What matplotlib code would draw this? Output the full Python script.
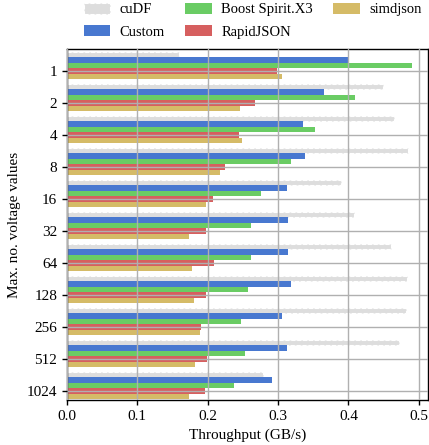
import matplotlib
matplotlib.use("Agg")
import matplotlib.pyplot as plt
import numpy as np

categories = ["1", "2", "4", "8", "16", "32", "64", "128", "256", "512", "1024"]
series_names = ["cuDF", "Custom", "Boost Spirit.X3", "RapidJSON", "simdjson"]
cudf = [0.159, 0.449, 0.465, 0.484, 0.390, 0.408, 0.461, 0.483, 0.482, 0.472, 0.279]
custom = [0.401, 0.365, 0.336, 0.338, 0.312, 0.314, 0.314, 0.318, 0.305, 0.312, 0.292]
boost = [0.490, 0.409, 0.352, 0.319, 0.275, 0.261, 0.261, 0.257, 0.247, 0.253, 0.238]
rapidjson = [0.298, 0.267, 0.244, 0.224, 0.207, 0.197, 0.209, 0.197, 0.191, 0.199, 0.196]
simdjson = [0.305, 0.2455, 0.248, 0.217, 0.197, 0.174, 0.177, 0.180, 0.189, 0.182, 0.174]

plt.rcParams['font.family'] = ['Liberation Serif', 'DejaVu Serif']
plt.rcParams['font.size'] = 11

fig = plt.figure(figsize=(4.29, 4.45), dpi=100)
ax = fig.add_axes([67/429, 1 - 400/445, (428-67)/429, (400-49)/445])

y = np.arange(len(categories))
h = 0.172
offsets = [-0.52, -0.35, -0.178, -0.006, 0.166]
colors = ["#dddddd", "#4878d0", "#6acc64", "#d65f5f", "#d5bb67"]
data = [cudf, custom, boost, rapidjson, simdjson]
handles = []
for name, vals, off, c in zip(series_names, data, offsets, colors):
    if name == "cuDF":
        b = ax.barh(y + off, vals, height=h, color=c, edgecolor="white",
                    linestyle="--", linewidth=0.8, label=name)
    else:
        b = ax.barh(y + off, vals, height=h, color=c, label=name)
    handles.append(b)

ax.set_yticks(y)
ax.set_yticklabels(categories)
ax.set_ylim(len(categories) - 1 + 0.28, -0.69)
ax.set_xlim(0, 0.513)
ax.set_xticks([0.0, 0.1, 0.2, 0.3, 0.4, 0.5])
ax.set_xticklabels(["0.0", "0.1", "0.2", "0.3", "0.4", "0.5"])
ax.grid(True, color="#b0b0b0", linewidth=1.0)
ax.set_axisbelow(False)
for s in ax.spines.values():
    s.set_color("black")
    s.set_linewidth(1.0)
ax.tick_params(direction="out", length=3.5, width=1, colors="black")
ax.set_xlabel("Throughput (GB/s)")
ax.set_ylabel("Max. no. voltage values")

fig.legend(handles=handles, labels=series_names, ncol=3, loc="upper left",
           bbox_to_anchor=(84/429, 1 - 3/445), frameon=False, borderpad=0,
           borderaxespad=0, fontsize=10.5, handlelength=1.8, handleheight=0.75,
           columnspacing=1.4, handletextpad=0.65, labelspacing=0.6)

fig.savefig("out.png", dpi=100)
